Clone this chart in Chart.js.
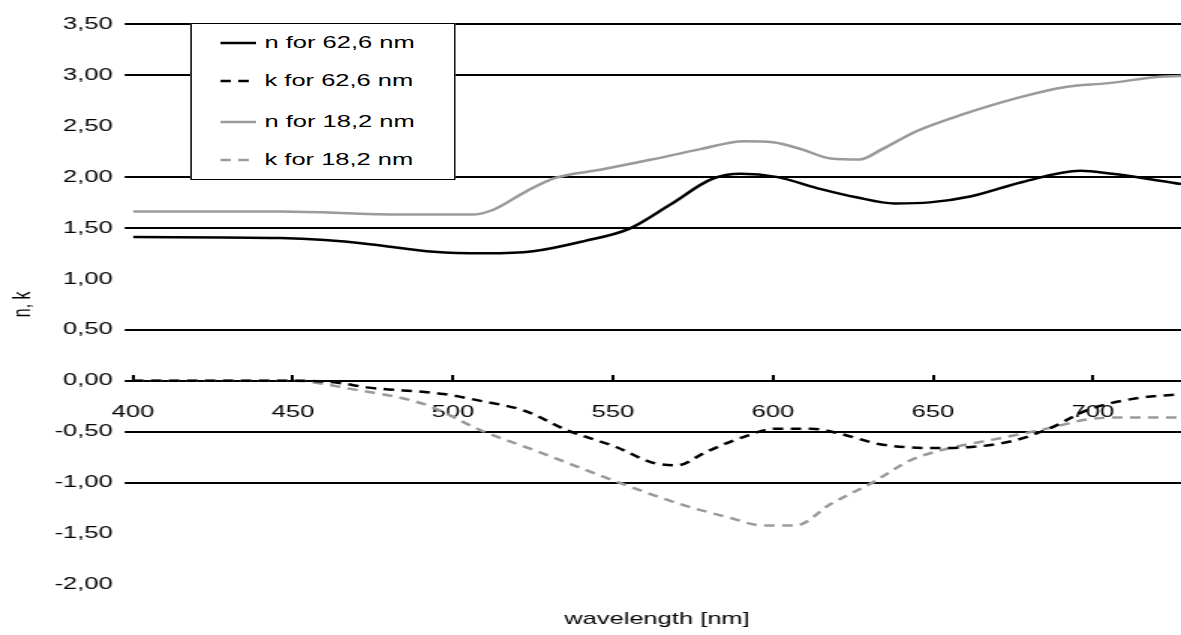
<!DOCTYPE html>
<html>
<head>
<meta charset="utf-8">
<script src="https://cdn.jsdelivr.net/npm/chart.js@4.4.0/dist/chart.umd.min.js"></script>
<style>
  html, body { margin: 0; padding: 0; background: #fff; overflow: hidden; }
  /* the original picture is stretched sideways, so draw narrow and widen */
  #stage { position: absolute; left: 0; top: 0; width: 788px; height: 635px; transform: scaleX(1.4987); transform-origin: 0 0; }
  #chart { display: block; }
  #legend { position: absolute; left: 126.5px; top: 23px; width: 175px; height: 155px; background: #fff; border: 1.5px solid #000;
            font-family: "Liberation Sans", Arial, sans-serif; font-size: 17px; color: #000; }
  .item { position: absolute; left: 19px; height: 20px; display: flex; align-items: center; white-space: nowrap; }
  .item svg { margin-right: 6px; }
</style>
</head>
<body>
<div id="stage">
  <canvas id="chart" width="788" height="635"></canvas>
  <div id="legend"></div>
</div>
<script>
// values
const seriesNames = ['n for 62,6 nm', 'k for 62,6 nm', 'n for 18,2 nm', 'k for 18,2 nm'];

const nThickWl  = [400, 446, 460, 474, 494, 510, 525, 541, 555, 568, 581, 590, 601, 615, 626, 638, 649, 662, 678, 696, 706, 727.5];
const nThickVal = [1.41, 1.40, 1.38, 1.34, 1.265, 1.25, 1.27, 1.37, 1.49, 1.73, 1.98, 2.03, 2.00, 1.88, 1.80, 1.74, 1.75, 1.81, 1.95, 2.06, 2.03, 1.93];

const kThickWl  = [400, 452, 464, 473, 497, 509, 522, 536, 551, 562, 570, 579, 590, 601, 612, 621, 633, 649, 662, 675, 687, 698, 712, 727.5];
const kThickVal = [0, 0, -0.02, -0.065, -0.13, -0.20, -0.29, -0.49, -0.65, -0.80, -0.83, -0.70, -0.56, -0.47, -0.47, -0.52, -0.62, -0.66, -0.65, -0.59, -0.46, -0.29, -0.18, -0.13];

const nThinWl  = [400, 446, 484, 506, 512, 523, 532, 546, 562, 577, 591, 600, 609, 618, 627, 634, 645, 659, 677, 691, 705, 720, 727.5];
const nThinVal = [1.66, 1.66, 1.63, 1.63, 1.67, 1.86, 1.99, 2.07, 2.17, 2.27, 2.35, 2.34, 2.27, 2.18, 2.17, 2.27, 2.45, 2.61, 2.78, 2.88, 2.92, 2.98, 2.99];

const kThinWl  = [400, 450, 468, 491, 509, 527, 552, 571, 586, 597, 607, 618, 631, 643, 654, 670, 687, 698, 712, 727.5];
const kThinVal = [0, 0, -0.08, -0.23, -0.49, -0.70, -1.00, -1.21, -1.34, -1.42, -1.42, -1.21, -1.00, -0.78, -0.67, -0.57, -0.46, -0.38, -0.36, -0.36];

const wavelengthTicks = [400, 450, 500, 550, 600, 650, 700];
const valueTicks = [-2, -1.5, -1, -0.5, 0, 0.5, 1, 1.5, 2, 2.5, 3, 3.5];

const xMin = 400, xMax = 727.5;
// grid lines that are missing in the picture
const noGrid = [2.5, 1, -1.5, -2];
const gridColors = valueTicks.map(v => noGrid.includes(v) ? 'rgba(0,0,0,0)' : '#000');

function pairs(xs, ys) {
    return xs.map((x, i) => ({ x: x, y: ys[i] }));
}

const fontFam = '"Liberation Sans", Arial, sans-serif';

const datasets = [
    { label: seriesNames[0], data: pairs(nThickWl, nThickVal), borderColor: '#000', borderDash: [] },
    { label: seriesNames[1], data: pairs(kThickWl, kThickVal), borderColor: '#000', borderDash: [7, 5] },
    { label: seriesNames[2], data: pairs(nThinWl, nThinVal), borderColor: '#9a9a9a', borderDash: [] },
    { label: seriesNames[3], data: pairs(kThinWl, kThinVal), borderColor: '#9a9a9a', borderDash: [7, 5] }
];

const chart = new Chart(document.getElementById('chart'), {
    type: 'line',
    data: { datasets: datasets },
    options: {
        responsive: false,
        animation: false,
        layout: { padding: { top: 24, right: 0, bottom: 0, left: 0 } },
        elements: {
            point: { radius: 0 },
            line: { borderWidth: 2.5, cubicInterpolationMode: 'monotone', fill: false }
        },
        plugins: { legend: { display: false }, tooltip: { enabled: false } },
        scales: {
            x: {
                type: 'linear',
                min: xMin, max: xMax,
                position: { y: 0 },
                afterBuildTicks: s => { s.ticks = wavelengthTicks.map(v => ({ value: v })); },
                ticks: { color: '#000', font: { family: fontFam, size: 17 }, padding: 27, maxRotation: 0, autoSkip: false },
                grid: { drawOnChartArea: false, drawTicks: true, tickLength: -6, color: '#000', lineWidth: 2 },
                border: { display: false }
            },
            x2: {
                type: 'linear',
                min: xMin, max: xMax,
                position: 'bottom',
                ticks: { display: false },
                grid: { display: false, drawTicks: false },
                border: { display: false },
                title: { display: true, text: 'wavelength [nm]', color: '#000', font: { family: fontFam, size: 17 }, padding: { top: 25, bottom: 5 } }
            },
            y: {
                min: -2, max: 3.5,
                afterBuildTicks: s => { s.ticks = valueTicks.map(v => ({ value: v })); },
                afterFit: s => { s.width = 88.7; },
                ticks: {
                    color: '#000', font: { family: fontFam, size: 17 }, padding: 8, autoSkip: false,
                    callback: v => v.toFixed(2).replace('.', ',')
                },
                grid: { color: gridColors, lineWidth: 2, tickLength: 5.5 },
                border: { display: false },
                title: { display: true, text: 'n, k', color: '#000', font: { family: fontFam, size: 16 }, padding: { top: 6, bottom: 0 } }
            }
        }
    }
});

// legend box drawn over the plot, built from the datasets
const legendEl = document.getElementById('legend');
const rowTops = [9, 47, 88, 126];
chart.data.datasets.forEach((ds, i) => {
    const row = document.createElement('div');
    row.className = 'item';
    row.style.top = rowTops[i] + 'px';
    const dash = ds.borderDash.length ? 'stroke-dasharray="' + ds.borderDash.join(' ') + '"' : '';
    row.innerHTML = '<svg width="24" height="6"><line x1="0" y1="3" x2="24" y2="3" stroke="' + ds.borderColor +
        '" stroke-width="2.5" ' + dash + '/></svg><span>' + ds.label + '</span>';
    legendEl.appendChild(row);
});
</script>
</body>
</html>
